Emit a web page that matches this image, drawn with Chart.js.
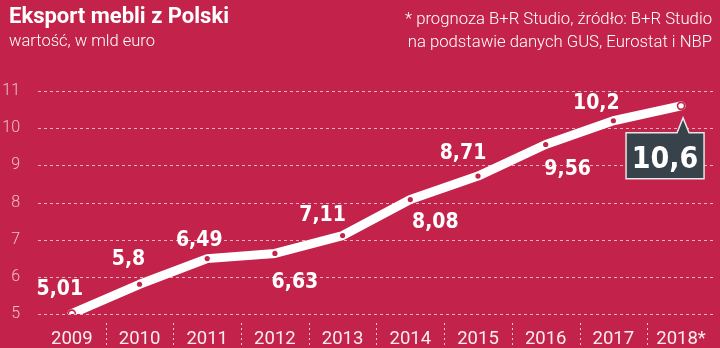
<html>
<head>
<meta charset="UTF-8">
<title>Eksport mebli z Polski</title>
<script src="https://cdn.jsdelivr.net/npm/chart.js@4.4.1/dist/chart.umd.min.js"></script>
<style>
	html, body { margin:0; padding:0; background:#c3234a; }
	#wrap { position:relative; width:720px; height:348px; overflow:hidden; }
	#lineChart { position:absolute; left:0; top:0; }
	.head { position:absolute; color:#fff; font-family:Roboto, sans-serif; white-space:nowrap; }
	#title { left:9px; top:3px; font-size:22px; font-weight:700; }
	#sub { left:9px; top:31px; font-size:16.5px; font-weight:300; }
	#note { right:8px; top:7px; font-size:16.7px; font-weight:300; text-align:right; line-height:23px; }
</style>
</head>
<body>
<div id="wrap">
	<canvas id="lineChart" width="720" height="348"></canvas>
	<div class="head" id="title">Eksport mebli z Polski</div>
	<div class="head" id="sub">wartość, w mld euro</div>
	<div class="head" id="note">* prognoza B+R Studio, źródło: B+R Studio<br>na podstawie danych GUS, Eurostat i NBP</div>
</div>
<script>
	// data
	var years = ['2009', '2010', '2011', '2012', '2013', '2014', '2015', '2016', '2017', '2018*'];
	var exportValues = [5.01, 5.8, 6.49, 6.63, 7.11, 8.08, 8.71, 9.56, 10.2, 10.6];
	var yTicks = [5, 6, 7, 8, 9, 10, 11];

	var red = '#c3234a';
	var boxC = '#37424a';
	var n = exportValues.length;

	// where each value label sits relative to its point: [dx, dy of baseline]
	var labelOffsets = [[-12, -19], [-11, -19], [-8, -13], [20, 35], [-20, -15],
		[25, 28], [-15, -17], [22, 30], [-17, -12]];

	function fmt(v) { return String(v).replace('.', ','); }

	// dashed horizontal grid, drawn on the y scale's tick pixels
	var dashedGrid = {
		id: 'dashedGrid',
		beforeDatasetsDraw: function(chart) {
			var ctx = chart.ctx;
			var ys = chart.scales.y;
			var area = chart.chartArea;
			ctx.save();
			ctx.strokeStyle = 'rgba(255,255,255,0.65)';
			ctx.lineWidth = 1;
			ctx.setLineDash([3, 3]);
			yTicks.forEach(function(v) {
				var y = Math.round(ys.getPixelForValue(v)) + 0.5;
				ctx.beginPath();
				ctx.moveTo(area.left, y);
				ctx.lineTo(area.right, y);
				ctx.stroke();
			});
			ctx.restore();
		}
	};

	var valueLabels = {
		id: 'valueLabels',
		afterDatasetsDraw: function(chart) {
			var ctx = chart.ctx;
			var pts = chart.getDatasetMeta(0).data;
			ctx.save();
			ctx.fillStyle = '#fff';
			ctx.textAlign = 'center';
			ctx.textBaseline = 'alphabetic';
			ctx.font = 'bold 21px "DejaVu Sans Condensed", "DejaVu Sans", sans-serif';
			for (var i = 0; i < n - 1; i++) {
				var o = labelOffsets[i];
				ctx.fillText(fmt(exportValues[i]), pts[i].x + o[0], pts[i].y + o[1]);
			}
			// last value in a callout box
			var p = pts[n - 1];
			var bw = 78, bh = 46;
			var bx = p.x - 16 - bw / 2, by = p.y + 27;
			ctx.beginPath();
			ctx.moveTo(bx, by);
			ctx.lineTo(p.x - 4, by);
			ctx.lineTo(p.x + 2, p.y + 12);
			ctx.lineTo(p.x + 8, by);
			ctx.lineTo(bx + bw, by);
			ctx.lineTo(bx + bw, by + bh);
			ctx.lineTo(bx, by + bh);
			ctx.closePath();
			ctx.fillStyle = boxC;
			ctx.fill();
			ctx.lineWidth = 1.5;
			ctx.strokeStyle = '#e6e6e6';
			ctx.stroke();
			ctx.fillStyle = '#fff';
			ctx.font = 'bold 30px "DejaVu Sans Condensed", "DejaVu Sans", sans-serif';
			ctx.fillText(fmt(exportValues[n - 1]), bx + bw / 2, by + 35);
			ctx.restore();
		}
	};

	var xSeparators = {
		id: 'xSeparators',
		afterDraw: function(chart) {
			var ctx = chart.ctx;
			var xs = chart.scales.x;
			var bottom = chart.chartArea.bottom;
			ctx.save();
			ctx.strokeStyle = 'rgba(255,255,255,0.75)';
			ctx.lineWidth = 1;
			ctx.setLineDash([2, 3]);
			for (var i = 0; i < n - 1; i++) {
				var x = Math.round((xs.getPixelForTick(i) + xs.getPixelForTick(i + 1)) / 2) + 0.5;
				ctx.beginPath();
				ctx.moveTo(x, bottom + 9);
				ctx.lineTo(x, 348);
				ctx.stroke();
			}
			ctx.restore();
		}
	};

	var ctxL = document.getElementById('lineChart').getContext('2d');
	var myLineChart = new Chart(ctxL, {
		type: 'line',
		data: {
			labels: years,
			datasets: [{
				data: exportValues,
				borderColor: '#fff',
				borderWidth: 9,
				borderCapStyle: 'round',
				borderJoinStyle: 'round',
				tension: 0,
				pointRadius: exportValues.map(function(v, i) { return (i == 0 || i == n - 1) ? 3.5 : 2.6; }),
				pointBackgroundColor: exportValues.map(function(v, i) { return (i == 0 || i == n - 1) ? '#fff' : red; }),
				pointBorderColor: red,
				pointBorderWidth: exportValues.map(function(v, i) { return (i == 0 || i == n - 1) ? 1.6 : 0; }),
				pointHoverRadius: 0
			}]
		},
		options: {
			responsive: false,
			animation: false,
			devicePixelRatio: 1,
			layout: { padding: { top: 91, right: 5, left: 0, bottom: 0 } },
			plugins: { legend: { display: false }, tooltip: { enabled: false } },
			events: [],
			scales: {
				x: {
					offset: true,
					grid: { display: false },
					border: { display: false },
					ticks: {
						color: 'rgba(255,255,255,0.92)',
						font: { family: 'Roboto', size: 18.5, weight: 'normal' },
						padding: 6,
						maxRotation: 0,
						autoSkip: false
					},
					afterFit: function(scale) { scale.height = 34; }
				},
				y: {
					min: 5,
					max: 11,
					afterBuildTicks: function(scale) {
						scale.ticks = yTicks.map(function(v) { return { value: v }; });
					},
					grid: { display: false },
					border: { display: false },
					ticks: {
						color: 'rgba(255,255,255,0.7)',
						font: { family: 'Roboto', size: 16, weight: 300 },
						padding: 10
					},
					afterFit: function(scale) { scale.width = 38; }
				}
			}
		},
		plugins: [dashedGrid, valueLabels, xSeparators]
	});
</script>
</body>
</html>
